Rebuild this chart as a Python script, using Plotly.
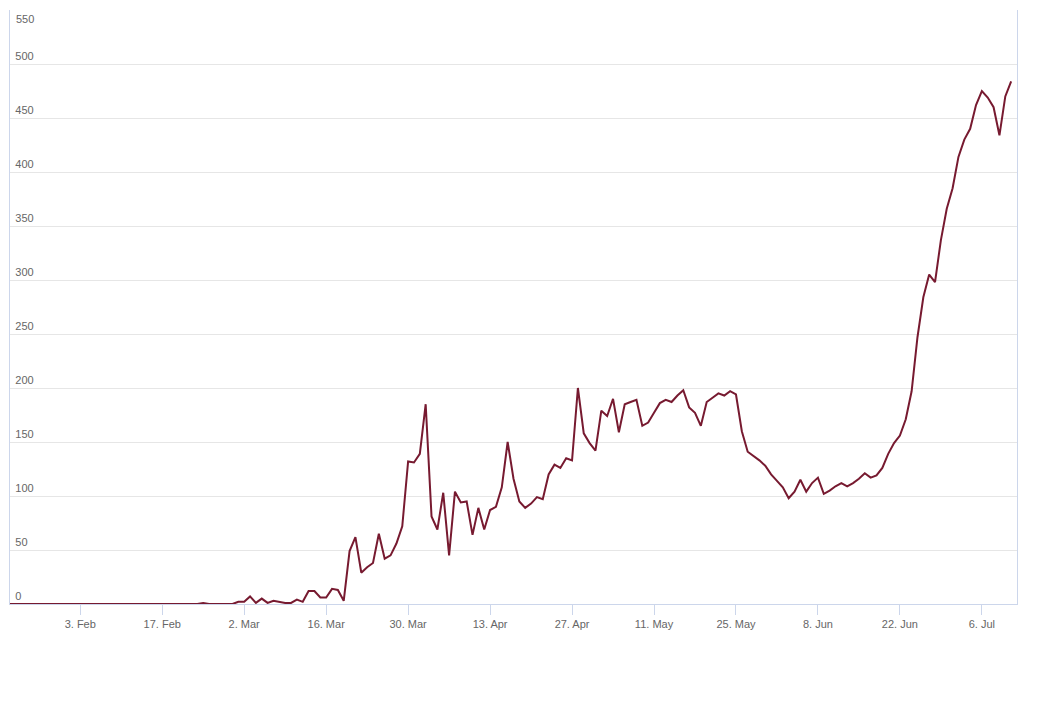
import pandas as pd
import plotly.graph_objects as go

start_date = "2020-01-22"
values = (
    [0] * 33  # Jan 22 - Feb 23
    + [1, 0, 0, 0, 0, 0]  # Feb 24 - Feb 29
    # March
    + [2, 2, 7, 1, 5, 1, 3, 2, 1, 1, 4, 2, 12, 12, 6, 6, 14, 13, 3, 49,
       62, 29, 34, 38, 65, 42, 45, 56, 72, 132, 131]
    # April
    + [139, 185, 81, 69, 103, 45, 104, 94, 95, 64, 89, 69, 87, 90, 108,
       150, 116, 95, 89, 93, 99, 97, 120, 129, 126, 135, 133, 200, 158, 149]
    # May
    + [142, 179, 174, 190, 159, 185, 187, 189, 165, 168, 177, 186, 189, 187,
       193, 198, 182, 177, 165, 187, 191, 195, 193, 197, 194, 160, 141, 137,
       133, 128, 120]
    # June
    + [114, 108, 98, 104, 115, 104, 112, 117, 102, 105, 109, 112, 109, 112,
       116, 121, 117, 119, 126, 139, 149, 156, 171, 197, 247, 284, 305, 298,
       337, 366]
    # July
    + [385, 414, 430, 440, 462, 475, 469, 460, 434, 470, 484]
)
dates = pd.date_range(start_date, periods=len(values), freq="D")

x_range = ["2020-01-22", "2020-07-12"]
x_tick0 = "2020-02-03"
y_range = [0, 550]
y_dtick = 50

axis_col = "#ccd6eb"
grid_col = "#e6e6e6"
text_col = "#666666"
font_family = "Liberation Sans, Arial, sans-serif"

fig = go.Figure()
fig.add_trace(go.Scatter(
    x=dates, y=values, mode="lines",
    line=dict(color="#771a30", width=2),
    showlegend=False,
))

# top tick label (plotly hides inside labels that overflow the plot area),
# placed just under its gridline so it stays fully visible
fig.add_annotation(
    xref="paper", x=0, yref="y", y=y_range[1],
    text=str(y_range[1]), showarrow=False,
    xanchor="left", yanchor="top", xshift=4, yshift=-1,
    font=dict(size=11, color=text_col, family=font_family),
)

fig.update_layout(
    width=1041, height=692,
    margin=dict(l=2, r=32, t=2, b=96),
    paper_bgcolor="white", plot_bgcolor="white",
    font=dict(family=font_family, size=11, color=text_col),
    xaxis=dict(
        type="date", range=x_range,
        tick0=x_tick0, dtick=14 * 86400000,
        tickformat="%-d. %b",
        showgrid=False, zeroline=False,
        showline=True, linecolor=axis_col, linewidth=1,
        ticks="outside", ticklen=10, tickcolor=axis_col,
        tickfont=dict(size=11, color=text_col),
        automargin=False,
    ),
    yaxis=dict(
        range=y_range, dtick=y_dtick,
        showgrid=True, gridcolor=grid_col, gridwidth=1,
        zeroline=False,
        showline=True, mirror=True, linecolor=axis_col, linewidth=1,
        ticks="", ticklabelposition="inside top",
        ticklabelstandoff=4,
        tickfont=dict(size=11, color=text_col),
        automargin=False,
    ),
)

fig.write_html("out.html")
